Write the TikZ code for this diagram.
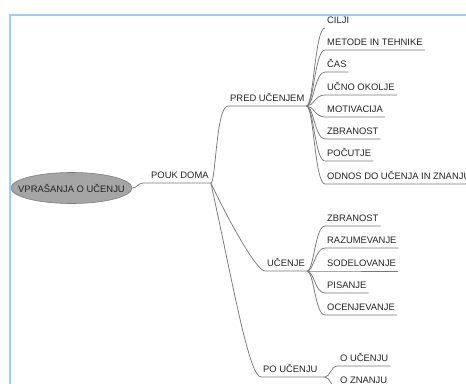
\documentclass[tikz,border=0pt]{standalone}
\usepackage{fontspec}
\setmainfont{Liberation Sans}
\usetikzlibrary{shapes.geometric}
\definecolor{frameblue}{RGB}{153,204,255}
\definecolor{linegray}{RGB}{120,120,120}
\definecolor{txtgray}{RGB}{35,35,35}
\definecolor{rootfill}{RGB}{165,165,165}
\definecolor{rootdraw}{RGB}{125,125,125}
\begin{document}
\begin{tikzpicture}[x=1pt,y=-1pt,
  lbl/.style={font=\fontsize{9.4}{11}\selectfont, text=txtgray, text height=7pt,
    text depth=2pt, inner xsep=2pt, inner ysep=2.6pt, anchor=south west},
  conn/.style={draw=linegray, line width=0.75pt},
  rootnode/.style={ellipse, fill=rootfill, draw=rootdraw, line width=0.6pt,
    minimum width=121pt, minimum height=31pt, inner sep=0pt,
    font=\fontsize{9.4}{11}\selectfont, text=txtgray},
  framestyle/.style={draw=frameblue, line width=1.6pt}]
\useasboundingbox (0,0) rectangle (466,383);
\clip (0,0) rectangle (466,383);

% nodes
\node[rootnode] (root) at (71.5,188) {\makebox[0pt]{VPRAŠANJA O UČENJU}};
\node[lbl] (pd)  at (149,183) {POUK DOMA};
\node[lbl] (pre) at (228,106) {PRED UČENJEM};
\node[lbl] (uc)  at (265,271) {UČENJE};
\node[lbl] (po)  at (261,377) {PO UČENJU};

\node[lbl] (c1) at (325,28)  {CILJI};
\node[lbl] (c2) at (325,50)  {METODE IN TEHNIKE};
\node[lbl] (c3) at (325,72)  {ČAS};
\node[lbl] (c4) at (325,95)  {UČNO OKOLJE};
\node[lbl] (c5) at (325,117) {MOTIVACIJA};
\node[lbl] (c6) at (325,139) {ZBRANOST};
\node[lbl] (c7) at (325,161) {POČUTJE};
\node[lbl] (c8) at (325,184) {ODNOS DO UČENJA IN ZNANJU};

\node[lbl] (u1) at (325,226) {ZBRANOST};
\node[lbl] (u2) at (325,248) {RAZUMEVANJE};
\node[lbl] (u3) at (325,271) {SODELOVANJE};
\node[lbl] (u4) at (325,293) {PISANJE};
\node[lbl] (u5) at (325,315) {OCENJEVANJE};

\node[lbl] (p1) at (338,366) {O UČENJU};
\node[lbl] (p2) at (338,388) {O ZNANJU};

\coordinate (pob) at ([xshift=5pt]po.south east);

% connectors
\draw[conn] (root.east) .. controls +(5,0) and +(-5,0) .. ([xshift=-6pt]pd.south west) -- (pd.south east);
\draw[conn] (pd.south east) .. controls +(5,0) and +(-12,0) .. (pre.south west) -- (pre.south east);
\draw[conn] (pd.south east) .. controls +(15,32) and +(-9,0) .. (uc.south west) -- (uc.south east);
\draw[conn] (pd.south east) .. controls +(22,100) and +(-12,0) .. (po.south west) -- (pob);

\draw[conn] (pre.south east) .. controls +(7,0) and +(-10,0) .. (c1.south west);
\foreach \n in {c2,c3,c4,c5,c6,c7,c8}
  \draw[conn] (pre.south east) .. controls +(7,0) and +(-10,0) .. (\n.south west) -- (\n.south east);
\foreach \n in {u1,u2,u3,u4,u5}
  \draw[conn] (uc.south east) .. controls +(7,0) and +(-10,0) .. (\n.south west) -- (\n.south east);
\foreach \n in {p1,p2}
  \draw[conn] (pob) .. controls +(6,0) and +(-8,0) .. (\n.south west) -- (\n.south east);

% frame
\draw[framestyle] (10,395) -- (10,15) -- (480,15);
\end{tikzpicture}
\end{document}
